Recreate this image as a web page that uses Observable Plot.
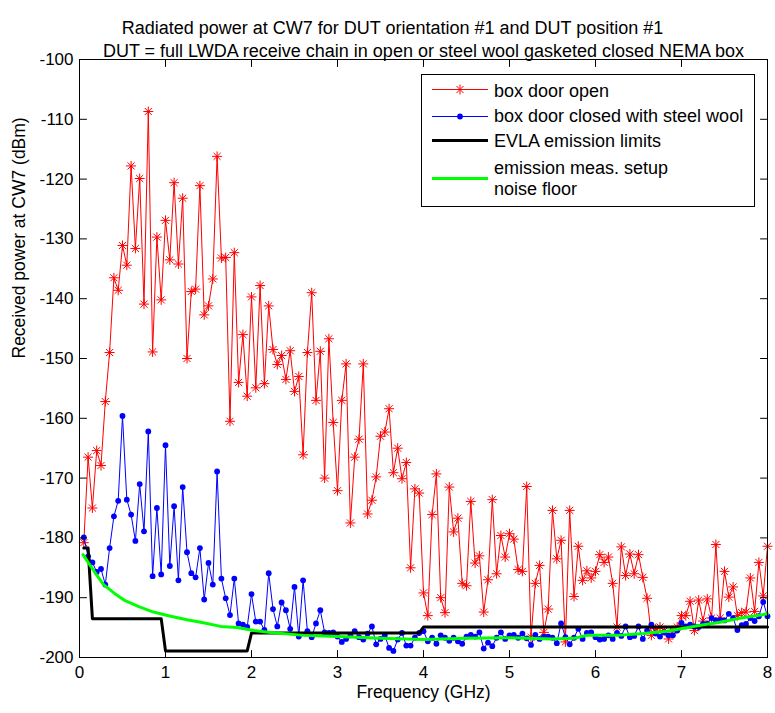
<!DOCTYPE html>
<html><head><meta charset="utf-8">
<script src="https://cdn.jsdelivr.net/npm/d3@7"></script>
<script src="https://cdn.jsdelivr.net/npm/@observablehq/plot@0.6"></script>
<style>
body{margin:0;background:#fff}
svg{font-family:"Liberation Sans",Arial,sans-serif}
</style>
</head><body><div id="chart"></div>
<script>
const freqGHz = [0.05,0.10,0.15,0.20,0.25,0.30,0.35,0.40,0.45,0.50,0.55,0.60,0.65,0.70,0.75,0.80,0.85,0.90,0.95,1.00,
1.05,1.10,1.15,1.20,1.25,1.30,1.35,1.40,1.45,1.50,1.55,1.60,1.65,1.70,1.75,1.80,1.85,1.90,1.95,2.00,
2.05,2.10,2.15,2.20,2.25,2.30,2.35,2.40,2.45,2.50,2.55,2.60,2.65,2.70,2.75,2.80,2.85,2.90,2.95,3.00,
3.05,3.10,3.15,3.20,3.25,3.30,3.35,3.40,3.45,3.50,3.55,3.60,3.65,3.70,3.75,3.80,3.85,3.90,3.95,4.00,
4.05,4.10,4.15,4.20,4.25,4.30,4.35,4.40,4.45,4.50,4.55,4.60,4.65,4.70,4.75,4.80,4.85,4.90,4.95,5.00,
5.05,5.10,5.15,5.20,5.25,5.30,5.35,5.40,5.45,5.50,5.55,5.60,5.65,5.70,5.75,5.80,5.85,5.90,5.95,6.00,
6.05,6.10,6.15,6.20,6.25,6.30,6.35,6.40,6.45,6.50,6.55,6.60,6.65,6.70,6.75,6.80,6.85,6.90,6.95,7.00,
7.05,7.10,7.15,7.20,7.25,7.30,7.35,7.40,7.45,7.50,7.55,7.60,7.65,7.70,7.75,7.80,7.85,7.90,7.95,8.00];

const doorOpen = [-180.8,-166.5,-175.0,-165.4,-167.9,-157.2,-149.0,-136.5,-138.6,-131.1,
-134.4,-117.8,-131.6,-119.9,-140.9,-108.7,-148.9,-129.7,-140.2,-126.9,
-133.5,-120.6,-134.2,-123.2,-150.0,-138.8,-138.4,-121.1,-142.7,-141.2,
-136.7,-116.2,-133.2,-133.1,-160.5,-132.3,-154.0,-146.0,-156.3,-139.7,
-154.9,-137.8,-154.2,-141.2,-148.5,-151.0,-149.5,-153.5,-148.7,-155.5,
-153.0,-166.1,-149.0,-139.0,-157.0,-148.8,-170.0,-146.7,-160.7,-172.1,
-157.0,-150.9,-177.5,-166.5,-163.5,-150.9,-176.0,-173.7,-169.8,-163.0,
-162.3,-158.4,-169.1,-165.0,-170.1,-167.4,-185.0,-171.8,-172.5,-189.2,
-193.0,-176.1,-169.3,-190.0,-192.5,-171.5,-179.0,-176.7,-187.6,-188.0,
-173.9,-184.2,-183.0,-192.4,-187.0,-173.6,-186.0,-179.6,-183.2,-179.3,
-180.2,-185.3,-185.6,-171.4,-196.6,-187.6,-184.6,-195.8,-191.9,-175.4,
-183.5,-180.4,-197.4,-175.4,-189.8,-181.4,-187.1,-185.5,-186.7,-185.6,
-182.8,-184.1,-183.2,-187.6,-194.9,-181.5,-186.3,-182.7,-186.0,-182.8,
-186.6,-190.1,-196.3,-195.2,-194.9,-195.5,-196.9,-195.5,-194.9,-193.0,
-193.0,-190.6,-195.5,-190.4,-193.9,-190.2,-193.4,-181.1,-193.4,-185.6,
-189.9,-188.2,-193.0,-192.5,-192.4,-186.7,-192.3,-184.1,-189.7,-181.4];

const doorClosed = [-179.9,-183.1,-184.1,-185.7,-185.2,-187.8,-181.7,-176.4,-173.8,-159.6,
-173.6,-176.1,-180.5,-171.0,-178.9,-162.2,-186.4,-175.0,-186.1,-164.5,
-184.7,-174.7,-187.1,-171.5,-182.4,-185.9,-186.6,-181.7,-190.3,-184.2,
-187.8,-168.9,-186.8,-190.1,-192.9,-186.8,-194.3,-194.5,-194.9,-189.4,
-194.0,-194.0,-195.4,-185.9,-191.9,-194.8,-190.8,-192.1,-195.2,-188.2,
-196.5,-187.1,-195.6,-196.6,-194.3,-192.1,-195.8,-195.9,-195.8,-196.5,
-197.4,-196.9,-196.3,-195.6,-196.6,-197.0,-196.0,-194.8,-197.8,-196.9,
-196.3,-198.4,-198.9,-197.0,-195.9,-198.0,-198.0,-196.7,-195.9,-195.6,
-197.3,-196.7,-197.7,-196.3,-196.7,-197.2,-196.7,-197.3,-197.7,-196.5,
-196.2,-196.5,-195.8,-198.5,-197.5,-198.1,-196.7,-195.8,-196.9,-196.3,
-196.2,-196.7,-196.0,-196.8,-197.9,-196.2,-196.9,-196.5,-196.5,-196.7,
-197.6,-194.3,-196.6,-197.8,-196.7,-195.2,-196.9,-195.9,-195.8,-196.6,
-197.0,-196.9,-196.3,-196.9,-195.9,-196.4,-194.8,-196.6,-196.4,-194.8,
-196.9,-195.5,-194.5,-196.0,-196.5,-195.8,-196.3,-196.3,-195.5,-194.2,
-194.8,-194.5,-194.8,-194.9,-194.4,-194.4,-193.4,-193.8,-193.7,-193.8,
-192.7,-193.4,-195.4,-194.6,-194.4,-193.4,-193.9,-193.1,-190.7,-193.1];

const limitFreq = [0.05,0.10,0.15,0.95,1.00,1.95,2.00,3.95,4.00,8.00];
const limitDbm  = [-181.7,-181.7,-193.5,-193.5,-198.9,-198.9,-195.9,-195.9,-194.9,-194.9];

const floorFreq = [0.04,0.19,0.28,0.40,0.53,0.69,0.86,1.06,1.25,1.44,1.64,1.83,2.03,2.22,2.61,3.00,3.50,4.00,4.50,5.00,5.50,5.75,5.90,6.25,6.56,6.83,6.99,7.22,7.45,7.69,8.00];
const floorDbm  = [-182.8,-186.0,-187.8,-189.2,-190.5,-191.5,-192.4,-193.1,-193.7,-194.2,-194.8,-195.0,-195.5,-195.8,-196.3,-196.5,-196.8,-197.0,-196.8,-196.7,-196.9,-196.8,-196.3,-196.3,-196.0,-195.6,-195.2,-194.6,-194.1,-193.4,-192.7];

const xTicks = [0,1,2,3,4,5,6,7,8];
const yTicks = [-200,-190,-180,-170,-160,-150,-140,-130,-120,-110,-100];

const titleLines = ["Radiated power at CW7 for DUT orientation #1 and DUT position #1",
                    "DUT = full LWDA receive chain in open or steel wool gasketed closed NEMA box"];
const xLabel = "Frequency (GHz)";
const yLabel = "Received power at CW7 (dBm)";
const legendLabels = ["box door open","box door closed with steel wool","EVLA emission limits","emission meas. setup","noise floor"];

const openData = freqGHz.map((f,i)=>({f, v: doorOpen[i]}));
const closedData = freqGHz.map((f,i)=>({f, v: doorClosed[i]}));
const limitData = limitFreq.map((f,i)=>({f, v: limitDbm[i]}));
const floorData = floorFreq.map((f,i)=>({f, v: floorDbm[i]}));

const tickShape = {draw(context, l) { context.moveTo(0, 0); context.lineTo(0, -l); }};
const tickLen = 7;

const font = "Liberation Sans, Arial, sans-serif";
const chart = Plot.plot({
  width: 775, height: 713,
  marginLeft: 79, marginRight: 8, marginTop: 59, marginBottom: 56,
  style: {fontFamily: font, fontSize: "17px", color: "black", background: "white"},
  x: {domain: [0, 8], label: null},
  y: {domain: [-200, -100], label: null},
  marks: [
    Plot.line(openData, {x: "f", y: "v", stroke: "#ff0000", strokeWidth: 1}),
    Plot.dot(openData, {x: "f", y: "v", symbol: "plus", r: 3.3, stroke: "#ff0000", strokeWidth: 1}),
    Plot.dot(openData, {x: "f", y: "v", symbol: "times", r: 3.3, stroke: "#ff0000", strokeWidth: 1}),
    Plot.line(closedData, {x: "f", y: "v", stroke: "#0000ff", strokeWidth: 1}),
    Plot.dot(closedData, {x: "f", y: "v", r: 2.9, fill: "#0000ff", stroke: "none"}),
    Plot.line(limitData, {x: "f", y: "v", stroke: "black", strokeWidth: 3}),
    Plot.line(floorData, {x: "f", y: "v", stroke: "#00ff00", strokeWidth: 3}),
    Plot.frame({stroke: "black", strokeWidth: 1}),
    // inward ticks on all four sides
    Plot.vector(xTicks, {x: d => d, frameAnchor: "bottom", length: tickLen, rotate: 0, anchor: "start", shape: tickShape, stroke: "black", strokeWidth: 1}),
    Plot.vector(xTicks, {x: d => d, frameAnchor: "top", length: tickLen, rotate: 180, anchor: "start", shape: tickShape, stroke: "black", strokeWidth: 1}),
    Plot.vector(yTicks, {y: d => d, frameAnchor: "left", length: tickLen, rotate: 90, anchor: "start", shape: tickShape, stroke: "black", strokeWidth: 1}),
    Plot.vector(yTicks, {y: d => d, frameAnchor: "right", length: tickLen, rotate: -90, anchor: "start", shape: tickShape, stroke: "black", strokeWidth: 1}),
    Plot.axisX({anchor: "bottom", ticks: xTicks, tickSize: 0, tickPadding: 8, tickFormat: d => String(d), label: null, fontSize: 17}),
    Plot.axisY({anchor: "left", ticks: yTicks, tickSize: 0, tickPadding: 6, tickFormat: d => String(d), label: null, fontSize: 17}),
    Plot.text([yLabel], {frameAnchor: "left", rotate: -90, dx: -60, text: d => d, fontSize: 17.5}),
    Plot.text([xLabel], {frameAnchor: "bottom", dy: 40, text: d => d, fontSize: 17.5}),
    Plot.text([titleLines[0]], {frameAnchor: "top", dx: -31, dy: -38, text: d => d, fontSize: 18}),
    Plot.text([titleLines[1]], {frameAnchor: "top", dy: -15, text: d => d, fontSize: 18})
  ]
});
document.getElementById("chart").appendChild(chart);

// legend
const svg = d3.select(chart);
const lg = svg.append("g").attr("font-family", font).attr("font-size", 18).attr("text-anchor", "start");
lg.append("rect").attr("x", 421.5).attr("y", 74.5).attr("width", 333).attr("height", 132)
  .attr("fill", "white").attr("stroke", "black");
const lx1 = 432, lx2 = 488, lxm = 460, tx = 494;
// red
lg.append("line").attr("x1", lx1).attr("x2", lx2).attr("y1", 89.5).attr("y2", 89.5).attr("stroke", "#ff0000");
lg.append("path").attr("transform", `translate(${lxm},89.5)`).attr("d", d3.symbol(d3.symbolPlus, Math.PI*3.3*3.3)()).attr("stroke", "#ff0000").attr("fill", "none");
lg.append("path").attr("transform", `translate(${lxm},89.5)`).attr("d", d3.symbol(d3.symbolTimes, Math.PI*3.3*3.3)()).attr("stroke", "#ff0000").attr("fill", "none");
lg.append("text").attr("x", tx).attr("y", 91).attr("dy", "0.35em").text(legendLabels[0]);
// blue
lg.append("line").attr("x1", lx1).attr("x2", lx2).attr("y1", 116.5).attr("y2", 116.5).attr("stroke", "#0000ff");
lg.append("circle").attr("cx", lxm).attr("cy", 116.5).attr("r", 2.9).attr("fill", "#0000ff");
lg.append("text").attr("x", tx).attr("y", 116).attr("dy", "0.35em").text(legendLabels[1]);
// black
lg.append("line").attr("x1", lx1).attr("x2", lx2).attr("y1", 140.5).attr("y2", 140.5).attr("stroke", "black").attr("stroke-width", 3);
lg.append("text").attr("x", tx).attr("y", 141).attr("dy", "0.35em").text(legendLabels[2]);
// green
lg.append("line").attr("x1", lx1).attr("x2", lx2).attr("y1", 178.5).attr("y2", 178.5).attr("stroke", "#00ff00").attr("stroke-width", 3);
lg.append("text").attr("x", tx).attr("y", 168).attr("dy", "0.35em").text(legendLabels[3]);
lg.append("text").attr("x", tx).attr("y", 189).attr("dy", "0.35em").text(legendLabels[4]);
</script>
</body></html>
